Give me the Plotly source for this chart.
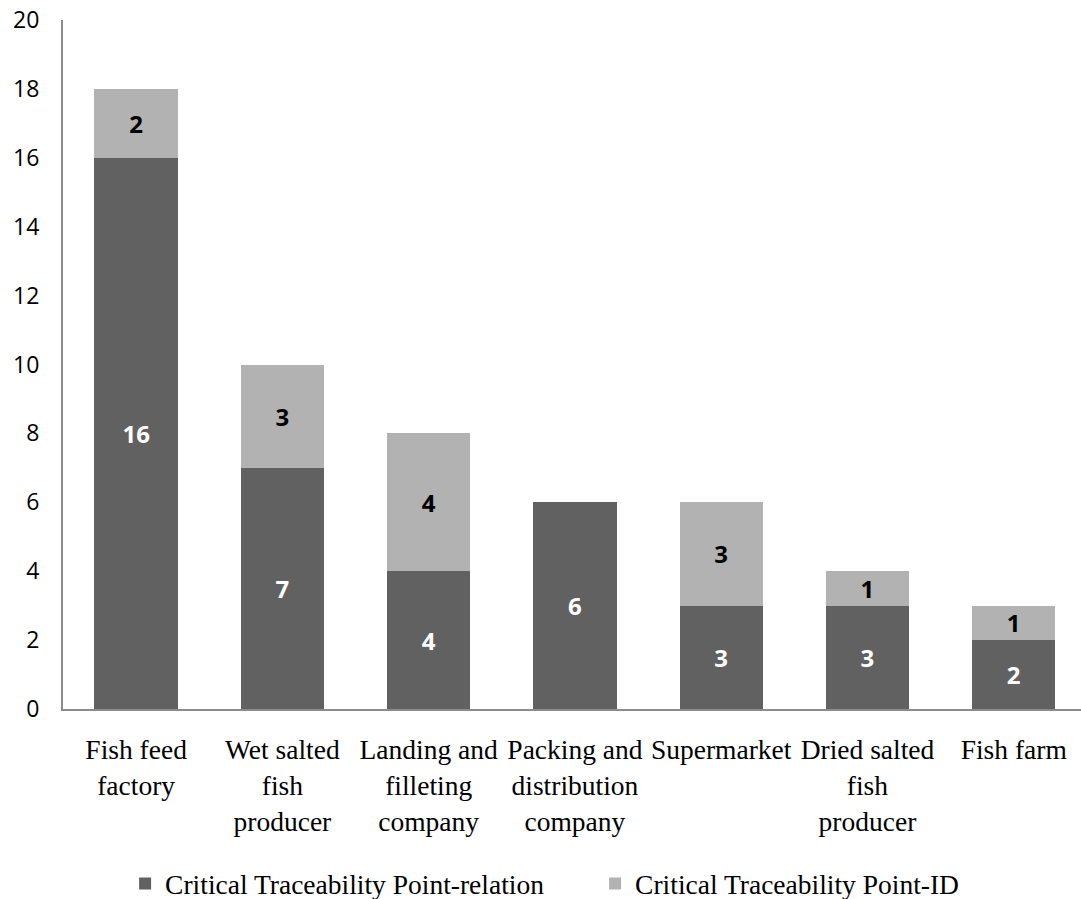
import plotly.graph_objects as go

categories = [
    "Fish feed<br>factory",
    "Wet salted<br>fish<br>producer",
    "Landing and<br>filleting<br>company",
    "Packing and<br>distribution<br>company",
    "Supermarket",
    "Dried salted<br>fish<br>producer",
    "Fish farm",
]
ctp_relation = [16, 7, 4, 6, 3, 3, 2]
ctp_id = [2, 3, 4, 0, 3, 1, 1]
y_ticks = list(range(0, 21, 2))

DARK = "#616161"
LIGHT = "#b2b2b2"
SERIF = "Liberation Serif, Times New Roman, serif"
SANS = "Open Sans, Lato, sans-serif"


def labels(vals):
    return [str(v) if v else "" for v in vals]


fig = go.Figure()
fig.add_trace(go.Bar(
    x=categories, y=ctp_relation, name="Critical Traceability Point-relation",
    marker=dict(color=DARK, line=dict(width=0)),
    text=labels(ctp_relation), textposition="inside", insidetextanchor="middle",
    textangle=0, constraintext="none",
    textfont=dict(family=SANS, size=24, color="white", weight="bold"),
    width=0.57,
))
fig.add_trace(go.Bar(
    x=categories, y=ctp_id, name="Critical Traceability Point-ID",
    marker=dict(color=LIGHT, line=dict(width=0)),
    text=labels(ctp_id), textposition="inside", insidetextanchor="middle",
    textangle=0, constraintext="none",
    textfont=dict(family=SANS, size=24, color="black", weight="bold"),
    width=0.57,
))

fig.update_layout(
    barmode="stack",
    width=1081, height=899,
    margin=dict(l=63, r=0, t=20, b=190, autoexpand=False),
    plot_bgcolor="white", paper_bgcolor="white",
    uniformtext=dict(mode="show", minsize=10),
    showlegend=True,
    legend=dict(
        orientation="h", traceorder="normal",
        x=0.061, xanchor="left",
        yref="container", y=0.017, yanchor="middle",
        font=dict(family=SERIF, size=27.5, color="black"),
        entrywidth=425, entrywidthmode="pixels",
    ),
    xaxis=dict(
        range=[-0.5, 6.46], automargin=False,
        showline=True, linecolor="#8c8c8c", linewidth=2,
        ticks="", tickfont=dict(family=SERIF, size=27.5, color="black"),
        ticklabelstandoff=15,
    ),
    yaxis=dict(
        range=[0, 20], tickvals=y_ticks, automargin=False,
        showline=True, linecolor="#8c8c8c", linewidth=2,
        showgrid=False, zeroline=False, ticks="",
        tickfont=dict(family=SANS, size=23, color="black"),
        ticklabelstandoff=17,
    ),
)

fig.write_html("out.html")
